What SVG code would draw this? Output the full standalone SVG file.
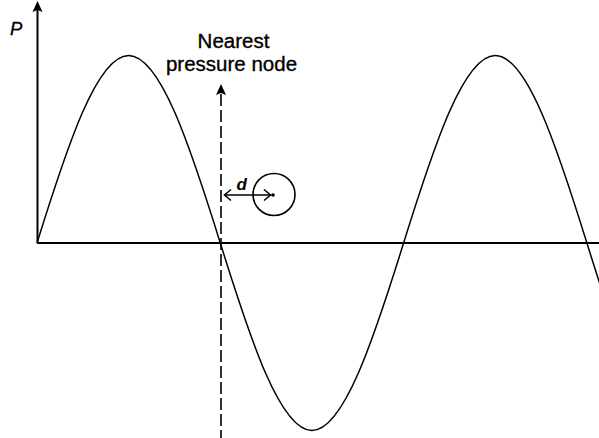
<svg xmlns="http://www.w3.org/2000/svg" width="599" height="438" viewBox="0 0 599 438">
  <style>
    .ln { stroke: #000; fill: none; }
    .ax { stroke-width: 2; }
    .crv { stroke-width: 1.5; }
    .head { fill: #000; stroke: none; }
    .lbl { font-family: "Liberation Sans", Arial, sans-serif; fill: #000; }
    .title { font-size: 20.5px; text-anchor: middle; stroke: #000; stroke-width: 0.35; }
  </style>
  <rect width="599" height="438" fill="#fff"/>

  <g id="axes">
    <line class="ln ax" x1="37.5" y1="243" x2="37.5" y2="9"/>
    <polygon class="head" points="37.5,1 32.5,12 37.5,10 42.5,12"/>
    <line class="ln ax" x1="37" y1="243" x2="599" y2="243"/>
  </g>

  <g id="wave">
    <path class="ln crv" d="M37,243 C66.89,146.95 96.88,55.5 128.65,55.5 C160.42,55.5 190.41,146.95 220.3,243 C250.19,339.05 280.18,430.5 311.95,430.5 C343.72,430.5 373.71,339.05 403.6,243 C433.49,146.95 463.48,55.5 495.25,55.5 C527.02,55.5 557.01,146.95 586.9,243 C616.79,339.05 646.78,430.5 678.55,430.5"/>
  </g>

  <g id="particle">
    <circle class="ln" cx="274" cy="194.5" r="21" stroke-width="1.6"/>
    <circle cx="273" cy="195" r="1.8" fill="#000"/>
  </g>

  <g id="connectors">
    <g id="node-line">
      <line class="ln" x1="221" y1="94" x2="221" y2="438" stroke-width="1.6" stroke-dasharray="12 4"/>
      <polygon class="head" points="221,84 216,95 221,93 226,95"/>
    </g>
    <g id="distance-d">
      <line class="ln" x1="224" y1="195" x2="271" y2="195" stroke-width="1.6"/>
      <polyline class="ln" points="231,189.5 224.5,195 231,200.5" stroke-width="1.6"/>
      <polyline class="ln" points="264,189.5 270.5,195 264,200.5" stroke-width="1.6"/>
    </g>
  </g>

  <g id="labels">
    <text class="lbl" x="10" y="35" font-size="18.5" font-style="italic" stroke="#000" stroke-width="0.3">P</text>
    <text class="lbl title" x="233.5" y="48">Nearest</text>
    <text class="lbl title" x="231.5" y="71">pressure node</text>
    <text class="lbl" x="236.5" y="190" font-size="17" font-style="italic" font-weight="bold">d</text>
  </g>
</svg>
